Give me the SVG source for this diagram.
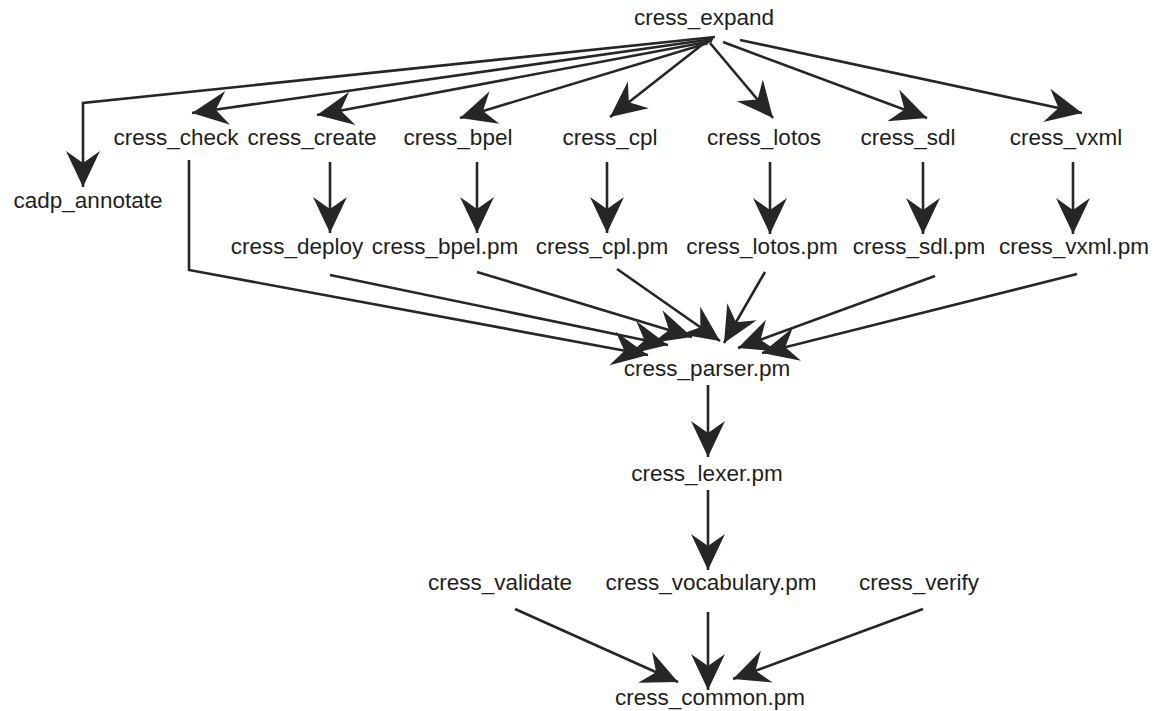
<svg xmlns="http://www.w3.org/2000/svg" width="1157" height="711" viewBox="0 0 1157 711">
<style>
text{font-family:"Liberation Sans",Arial,sans-serif;font-size:22.5px;fill:#1e1e1e;text-anchor:middle}
.e{fill:none;stroke:#262626;stroke-width:2.6;marker-end:url(#ah)}
</style>
<defs>
<marker id="ah" markerUnits="userSpaceOnUse" viewBox="-38 -18 40 36" refX="0" refY="0" markerWidth="40" markerHeight="36" orient="auto" overflow="visible">
<path d="M0,0 L-36,-17 L-24,0 L-36,17 Z" fill="#262626"/>
</marker>
</defs>
<rect width="1157" height="711" fill="#fff"/>
<g id="connectors">
<path class="e" d="M715,37 L83,103 L83,187"/>
<path class="e" d="M713,39 L192,113"/>
<path class="e" d="M712,41 L317,115"/>
<path class="e" d="M708,43 L460,118"/>
<path class="e" d="M703,44 L610,117"/>
<path class="e" d="M710,43 L773,118"/>
<path class="e" d="M723,42 L927,118"/>
<path class="e" d="M740,40 L1082,113"/>
<path class="e" d="M330,162 L330,233"/>
<path class="e" d="M477,162 L477,233"/>
<path class="e" d="M607,162 L607,233"/>
<path class="e" d="M770,162 L770,234"/>
<path class="e" d="M923,162 L923,234"/>
<path class="e" d="M1073,162 L1073,234"/>
<path class="e" d="M189,160 L189,270 L648,355"/>
<path class="e" d="M330,275 L668,345"/>
<path class="e" d="M477,272 L692,337"/>
<path class="e" d="M617,269 L720,341"/>
<path class="e" d="M765,272 L724,343"/>
<path class="e" d="M935,276 L738,348"/>
<path class="e" d="M1077,274 L762,353"/>
<path class="e" d="M708,385 L708,457"/>
<path class="e" d="M708,490 L708,570"/>
<path class="e" d="M515,609 L678,682"/>
<path class="e" d="M708,612 L708,690"/>
<path class="e" d="M923,609 L733,679"/>
</g>
<g id="cress_expand"><text x="704" y="25">cress_expand</text></g>
<g id="cress_check"><text x="176" y="145">cress_check</text></g>
<g id="cress_create"><text x="312" y="145">cress_create</text></g>
<g id="cress_bpel"><text x="458" y="145">cress_bpel</text></g>
<g id="cress_cpl"><text x="610" y="145">cress_cpl</text></g>
<g id="cress_lotos"><text x="764" y="145">cress_lotos</text></g>
<g id="cress_sdl"><text x="908" y="145">cress_sdl</text></g>
<g id="cress_vxml"><text x="1066" y="145">cress_vxml</text></g>
<g id="cadp_annotate"><text x="88" y="208">cadp_annotate</text></g>
<g id="cress_deploy"><text x="297" y="254">cress_deploy</text></g>
<g id="cress_bpel_pm"><text x="445" y="254">cress_bpel.pm</text></g>
<g id="cress_cpl_pm"><text x="602" y="254">cress_cpl.pm</text></g>
<g id="cress_lotos_pm"><text x="762" y="254">cress_lotos.pm</text></g>
<g id="cress_sdl_pm"><text x="919" y="254">cress_sdl.pm</text></g>
<g id="cress_vxml_pm"><text x="1074" y="254">cress_vxml.pm</text></g>
<g id="cress_parser_pm"><text x="707" y="376">cress_parser.pm</text></g>
<g id="cress_lexer_pm"><text x="707" y="481">cress_lexer.pm</text></g>
<g id="cress_validate"><text x="500" y="590">cress_validate</text></g>
<g id="cress_vocabulary_pm"><text x="711" y="590">cress_vocabulary.pm</text></g>
<g id="cress_verify"><text x="919" y="590">cress_verify</text></g>
<g id="cress_common_pm"><text x="710" y="705">cress_common.pm</text></g>
</svg>
